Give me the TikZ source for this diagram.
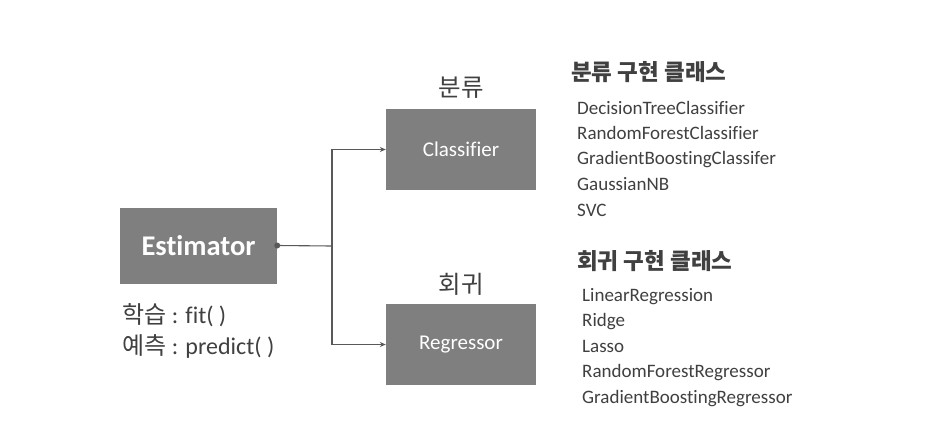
\documentclass[tikz,border=0pt]{standalone}
\usepackage{fontspec}
\setmainfont{Carlito}[Ligatures=NoCommon]
\newfontfamily\kr{Noto Sans CJK KR}
\usetikzlibrary{arrows.meta}
\definecolor{boxgray}{HTML}{7F7F7F}
\definecolor{linegray}{HTML}{595959}
\definecolor{txtgray}{HTML}{404040}
\tikzset{
  box/.style={draw=none, fill=boxgray, text=white, minimum width=#1, inner sep=0pt},
  conn/.style={draw=linegray, line width=1.1pt},
  arr/.style={conn, -{Stealth[length=6pt,width=5pt]}},
  lbl/.style={text=txtgray, anchor=west, inner sep=0pt, text height=0.7em, text depth=0.2em},
}
\begin{document}
\begin{tikzpicture}[x=1pt,y=-1pt]
\useasboundingbox[fill=white] (0,0) rectangle (952,442);
\node[box=157pt, minimum height=76pt, font=\fontsize{28.5}{32}\selectfont\bfseries] (est) at (198.5,245.5) {Estimator};
\node[box=150pt, minimum height=81pt, font=\fontsize{21}{25}\selectfont] (cls) at (461,149.5) {Classifier};
\node[box=150pt, minimum height=81pt, font=\fontsize{21}{25}\selectfont] (reg) at (461,344.5) {Regressor};
\node[text=txtgray, font=\kr\fontsize{24.5}{28}\selectfont] (clslbl) at (461,88) {분류};
\node[text=txtgray, font=\kr\fontsize{24.5}{28}\selectfont] (reglbl) at (461,284) {회귀};
\node[lbl, font=\fontsize{24}{28}\selectfont] (fit) at (122,321) {{\kr 학습} : fit( )};
\node[lbl, font=\fontsize{24}{28}\selectfont] (pred) at (122,352) {{\kr 예측} : predict( )};
\coordinate (jn) at (332,246);
\fill[linegray] (est.east) circle (3pt);
\draw[conn] (est.east) -- (jn);
\draw[arr] (jn) |- (cls.west);
\draw[arr] (jn) |- (reg.west);
\node[lbl, font=\kr\bfseries\fontsize{22.5}{26}\selectfont] (h1) at (571,78) {분류 구현 클래스};
\foreach \t/\y/\n in {DecisionTreeClassifier/112/c1, RandomForestClassifier/137/c2, GradientBoostingClassifer/162/c3, GaussianNB/188/c4, SVC/214/c5}
  \node[lbl, font=\fontsize{19}{23}\selectfont] (\n) at (577,\y) {\t};
\node[lbl, font=\kr\bfseries\fontsize{22.5}{26}\selectfont] (h2) at (577,267) {회귀 구현 클래스};
\foreach \t/\y/\n in {LinearRegression/299/r1, Ridge/324/r2, Lasso/350/r3, RandomForestRegressor/375/r4, GradientBoostingRegressor/401/r5}
  \node[lbl, font=\fontsize{19}{23}\selectfont] (\n) at (582,\y) {\t};
\end{tikzpicture}
\end{document}
